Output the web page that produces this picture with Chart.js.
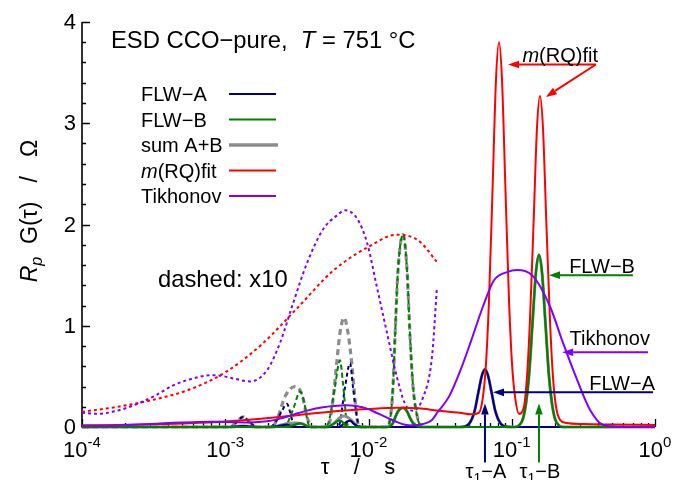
<!DOCTYPE html>
<html>
<head>
<meta charset="utf-8">
<script src="https://cdn.jsdelivr.net/npm/chart.js@4.4.0/dist/chart.umd.min.js"></script>
<style>
  html, body { margin: 0; padding: 0; background: #fff; }
  #wrap { width: 675px; height: 480px; }
</style>
</head>
<body>
<div id="wrap"><canvas id="esd" width="675" height="480"></canvas></div>
<script>
// distributions of relaxation times, x = log10(tau / s), y = Rp*G(tau) in Ohm

// m(RQ) fit
var rqLgTau = [-4.000, -3.750, -3.500, -3.250, -3.000, -2.750, -2.500, -2.250, -2.000, -1.800,
  -1.650, -1.522, -1.438, -1.361, -1.284, -1.230, -1.201,
  -1.180, -1.159, -1.134, -1.110, -1.089, -1.068, -1.044, -1.019, -0.998, -0.977,
  -0.949, -0.915, -0.894, -0.873, -0.848, -0.824, -0.803, -0.782, -0.758, -0.733,
  -0.712, -0.691, -0.663, -0.620, -0.500, -0.300, 0.000];
var rqG = [0.015, 0.020, 0.027, 0.037, 0.054, 0.081, 0.117, 0.154, 0.178, 0.190,
  0.184, 0.163, 0.150, 0.140, 0.125, 0.140, 0.300,
  0.620, 1.250, 2.350, 3.430, 3.800, 3.430, 2.350, 1.250, 0.620, 0.300,
  0.130, 0.200, 0.490, 1.050, 2.000, 2.950, 3.270, 2.950, 2.000, 1.050,
  0.490, 0.200, 0.070, 0.040, 0.030, 0.025, 0.020];

// Tikhonov regularisation
var tikLgTau = [-4.000, -3.895, -3.756, -3.595, -3.476, -3.365, -3.225, -3.106, -3.058, -2.946,
  -2.827, -2.709, -2.618, -2.527, -2.429, -2.318, -2.220, -2.164, -2.080, -2.010,
  -1.941, -1.871, -1.801, -1.745, -1.689, -1.620, -1.557, -1.522, -1.438, -1.361,
  -1.284, -1.201, -1.124, -1.033, -0.963, -0.852, -0.733, -0.642, -0.545, -0.454,
  -0.363, -0.250, 0.000];
var tikG = [0.014, 0.013, 0.016, 0.024, 0.032, 0.041, 0.048, 0.051, 0.051, 0.048,
  0.045, 0.056, 0.083, 0.122, 0.162, 0.195, 0.209, 0.214, 0.206, 0.182,
  0.138, 0.093, 0.049, 0.023, 0.016, 0.029, 0.069, 0.138, 0.300, 0.550,
  0.850, 1.190, 1.450, 1.530, 1.550, 1.490, 1.190, 0.830, 0.470, 0.170,
  0.020, 0.003, 0.000];

// FLW component A
var flwALgTau = [-4.000, -2.967, -2.920, -2.876, -2.830, -2.778, -2.688, -2.639, -2.604, -2.569,
  -2.548, -2.527, -2.492, -2.213, -2.199, -2.164, -2.129, -2.108, -2.073, -2.052,
  -1.360, -1.327, -1.299, -1.278, -1.257, -1.232, -1.208, -1.187, -1.166, -1.142,
  -1.117, -1.096, -1.075, -1.047, -1.000, 0.000];
var flwAG = [0, 0, 0.005, 0.010, 0.005, 0, 0, 0.007, 0.016, 0.023,
  0.015, 0.004, 0, 0, 0.005, 0.039, 0.063, 0.039, 0.004, 0,
  0, 0.005, 0.030, 0.080, 0.170, 0.350, 0.510, 0.570, 0.510, 0.350,
  0.170, 0.080, 0.030, 0.005, 0, 0];

// FLW component B
var flwBLgTau = [-4.000, -2.590, -2.562, -2.520, -2.478, -2.450, -2.422, -2.394, -2.297, -2.269,
  -2.234, -2.199, -2.178, -2.150, -2.129, -1.878, -1.850, -1.829, -1.815, -1.794,
  -1.759, -1.731, -1.710, -1.689, -1.654, -1.627, -0.980, -0.950, -0.922, -0.901,
  -0.880, -0.855, -0.831, -0.810, -0.789, -0.765, -0.740, -0.719, -0.698, -0.670,
  -0.640, 0.000];
var flwBG = [0, 0, 0.005, 0.020, 0.035, 0.025, 0.004, 0, 0, 0.010,
  0.040, 0.066, 0.043, 0.004, 0, 0, 0.007, 0.040, 0.089, 0.155,
  0.190, 0.155, 0.089, 0.040, 0.007, 0, 0, 0.015, 0.080, 0.230,
  0.500, 1.030, 1.530, 1.700, 1.530, 1.030, 0.500, 0.230, 0.080, 0.015,
  0, 0];

// sum A+B
var sumLgTau = [-4.000, -2.967, -2.920, -2.876, -2.830, -2.778, -2.674, -2.632, -2.583, -2.513,
  -2.464, -2.429, -2.394, -2.283, -2.248, -2.220, -2.199, -2.171, -2.143, -2.115,
  -2.094, -2.073, -2.052, -1.878, -1.850, -1.829, -1.815, -1.794, -1.759, -1.731,
  -1.710, -1.689, -1.654, -1.627, -1.360, -1.327, -1.299, -1.278, -1.257, -1.232,
  -1.208, -1.187, -1.166, -1.142, -1.117, -1.096, -1.075, -1.047, -1.000, -0.980,
  -0.950, -0.922, -0.901, -0.880, -0.855, -0.831, -0.810, -0.789, -0.765, -0.740,
  -0.719, -0.698, -0.670, -0.640, 0.000];
var sumG = [0, 0, 0.005, 0.010, 0.005, 0, 0, 0.010, 0.030, 0.040,
  0.032, 0.010, 0, 0, 0.027, 0.066, 0.093, 0.108, 0.093, 0.060,
  0.027, 0.003, 0, 0, 0.007, 0.040, 0.089, 0.155, 0.190, 0.155,
  0.089, 0.040, 0.007, 0, 0, 0.005, 0.030, 0.080, 0.170, 0.350,
  0.510, 0.570, 0.510, 0.350, 0.170, 0.080, 0.030, 0.005, 0, 0,
  0.015, 0.080, 0.230, 0.500, 1.030, 1.530, 1.700, 1.530, 1.030, 0.500,
  0.230, 0.080, 0.015, 0, 0];

var xDecades = [-4, -3, -2, -1, 0];
var yTicks = [0, 1, 2, 3, 4];
var dashedFactor = 10;      // dashed curves are magnified x10
var dashedUpTo = 0.0302;    // s, end of the magnified range

var NAVY = '#000080', GREEN = '#008000', GRAY = '#8c8c8c', RED = '#ff0000', VIOLET = '#8000ff';
var FONT = "'Liberation Sans', Arial, sans-serif";

function pts(lg, g, factor, upTo) {
  var out = [];
  for (var i = 0; i < lg.length; i++) {
    var t = Math.pow(10, lg[i]);
    if (upTo && t > upTo) break;
    out.push({ x: t, y: g[i] * (factor || 1) });
  }
  return out;
}

function line(label, data, color, width, dash, order) {
  return {
    label: label, data: data, borderColor: color, borderWidth: width,
    borderDash: dash || [], pointRadius: 0, fill: false,
    cubicInterpolationMode: 'monotone', order: order, clip: 4
  };
}

var datasets = [
  line('Tikhonov', pts(tikLgTau, tikG), VIOLET, 2, null, 1),
  line('m(RQ)fit', pts(rqLgTau, rqG), RED, 2, null, 2),
  line('FLW-B', pts(flwBLgTau, flwBG), GREEN, 2.2, null, 3),
  line('FLW-A', pts(flwALgTau, flwAG), NAVY, 2.2, null, 4),
  line('sum A+B', pts(sumLgTau, sumG), GRAY, 3, null, 5),
  line('Tikhonov x10', pts(tikLgTau, tikG, dashedFactor, dashedUpTo), VIOLET, 2, [3, 3], 6),
  line('m(RQ)fit x10', pts(rqLgTau, rqG, dashedFactor, dashedUpTo), RED, 2, [3, 3], 7),
  line('FLW-B x10', pts(flwBLgTau, flwBG, dashedFactor, dashedUpTo), GREEN, 2, [5, 3], 8),
  line('FLW-A x10', pts(flwALgTau, flwAG, dashedFactor, dashedUpTo), NAVY, 2, [4, 3], 9),
  line('sum A+B x10', pts(sumLgTau, sumG, dashedFactor, dashedUpTo), GRAY, 3.2, [6, 4], 10)
];

// draw a line of text made of several styled pieces: [text, size, italic, dy]
function rich(ctx, parts, x, y, align) {
  var w = 0;
  parts.forEach(function (p) {
    ctx.font = (p[2] ? 'italic ' : '') + p[1] + 'px ' + FONT;
    w += ctx.measureText(p[0]).width;
  });
  var cx = align === 'center' ? x - w / 2 : (align === 'right' ? x - w : x);
  ctx.textAlign = 'left';
  ctx.textBaseline = 'alphabetic';
  parts.forEach(function (p) {
    ctx.font = (p[2] ? 'italic ' : '') + p[1] + 'px ' + FONT;
    ctx.fillText(p[0], cx, y + (p[3] || 0));
    cx += ctx.measureText(p[0]).width;
  });
}

function arrow(ctx, x0, y0, x1, y1, color) {
  var a = Math.atan2(y1 - y0, x1 - x0), len = 11, hw = 3.8;
  var bx = x1 - Math.cos(a) * len, by = y1 - Math.sin(a) * len;
  ctx.strokeStyle = color;
  ctx.fillStyle = color;
  ctx.lineWidth = 2;
  ctx.setLineDash([]);
  ctx.beginPath();
  ctx.moveTo(x0, y0);
  ctx.lineTo(bx, by);
  ctx.stroke();
  ctx.beginPath();
  ctx.moveTo(x1, y1);
  ctx.lineTo(bx - Math.sin(a) * hw, by + Math.cos(a) * hw);
  ctx.lineTo(bx + Math.sin(a) * hw, by - Math.cos(a) * hw);
  ctx.closePath();
  ctx.fill();
}

// labelled arrows, positions in data units (tau / s, Ohm)
var notes = [
  { text: [['m', 20, true], ['(RQ)fit', 20, false]], color: RED, from: [0.387, 3.58], to: [[0.0942, 3.58], [0.173, 3.26]], lift: 3 },
  { text: [['FLW\u2212B', 20, false]], color: GREEN, from: [0.701, 1.50], to: [[0.182, 1.50]], lift: 2 },
  { text: [['Tikhonov', 20, false]], color: VIOLET, from: [0.893, 0.738], to: [[0.225, 0.738]], lift: 7 },
  { text: [['FLW\u2212A', 20, false]], color: NAVY, from: [0.968, 0.342], to: [[0.074, 0.342]], lift: 2 }
];
var tauMarks = [
  { tau: Math.pow(10, -1.187), name: 'A', color: NAVY },
  { tau: Math.pow(10, -0.810), name: 'B', color: GREEN }
];

var legendRows = [
  ['FLW\u2212A', NAVY, 2.2], ['FLW\u2212B', GREEN, 2.2], ['sum A+B', GRAY, 3.5],
  ['m(RQ)fit', RED, 2.2], ['Tikhonov', VIOLET, 2.2]
];

var decor = {
  id: 'decor',
  beforeDatasetsDraw: function (chart) {
    var ctx = chart.ctx, xs = chart.scales.x, ys = chart.scales.y, a = chart.chartArea;
    ctx.save();
    ctx.strokeStyle = '#000';
    ctx.lineWidth = 1.6;
    ctx.beginPath();
    ctx.moveTo(a.left, a.top);
    ctx.lineTo(a.left, a.bottom);
    ctx.lineTo(a.right, a.bottom);
    ctx.stroke();
    ctx.lineWidth = 1.3;
    ctx.beginPath();
    xDecades.forEach(function (d, i) {
      var n = i < xDecades.length - 1 ? 9 : 1;
      for (var m = 1; m <= n; m++) {
        var px = Math.round(xs.getPixelForValue(m * Math.pow(10, d))) + 0.5;
        ctx.moveTo(px, a.bottom);
        ctx.lineTo(px, a.bottom - (m === 1 ? 8 : 4));
      }
    });
    for (var k = 0; k <= 20; k++) {
      var py = Math.round(ys.getPixelForValue(k * 0.2)) + 0.5;
      ctx.moveTo(a.left, py);
      ctx.lineTo(a.left + (k % 5 === 0 ? 8 : 4), py);
    }
    ctx.stroke();
    ctx.restore();
  },
  afterDraw: function (chart) {
    var ctx = chart.ctx, xs = chart.scales.x, ys = chart.scales.y, a = chart.chartArea;
    ctx.save();
    ctx.fillStyle = '#000';

    // tick labels
    xDecades.forEach(function (d) {
      var px = xs.getPixelForValue(Math.pow(10, d));
      var exp = d < 0 ? '-' + (-d) : String(d);
      rich(ctx, [['10', 22, false], [exp, 15, false, -10]], px, 457, 'center');
    });
    ctx.font = '22px ' + FONT;
    ctx.textAlign = 'right';
    ctx.textBaseline = 'middle';
    yTicks.forEach(function (v) {
      ctx.fillText(String(v), a.left - 6, ys.getPixelForValue(v) + 1);
    });

    // axis titles
    rich(ctx, [['\u03c4    /    s', 22, false]], 358, 474, 'center');
    ctx.save();
    ctx.translate(37, 211);
    ctx.rotate(-Math.PI / 2);
    rich(ctx, [['R', 23, true], ['p', 16, true, 5], ['  G(\u03c4)   /   \u03a9', 23, false]], 0, 0, 'center');
    ctx.restore();

    // heading and note
    rich(ctx, [['ESD CCO\u2212pure,  ', 23.8, false], ['T', 23.8, true], [' = 751 \u00b0C', 23.8, false]], 111, 48, 'left');
    rich(ctx, [['dashed: x10', 23.8, false]], 158, 287, 'left');

    // legend
    legendRows.forEach(function (r, i) {
      var y = 94 + i * 25.5;
      var label = r[0] === 'm(RQ)fit' ? [['m', 20, true], ['(RQ)fit', 20, false]] : [[r[0], 20, false]];
      ctx.fillStyle = '#000';
      rich(ctx, label, 141, y + 7, 'left');
      ctx.strokeStyle = r[1];
      ctx.lineWidth = r[2];
      ctx.beginPath();
      ctx.moveTo(229, y);
      ctx.lineTo(r[0] === 'sum A+B' ? 278 : 276, y);
      ctx.stroke();
    });

    // labelled arrows
    notes.forEach(function (n) {
      var x0 = xs.getPixelForValue(n.from[0]), y0 = ys.getPixelForValue(n.from[1]);
      n.to.forEach(function (t) {
        arrow(ctx, x0, y0, xs.getPixelForValue(t[0]), ys.getPixelForValue(t[1]), n.color);
      });
      ctx.fillStyle = '#000';
      rich(ctx, n.text, x0 + 2, y0 - n.lift, 'right');
    });

    tauMarks.forEach(function (m) {
      var px = xs.getPixelForValue(m.tau);
      arrow(ctx, px, ys.getPixelForValue(-0.35), px, ys.getPixelForValue(0.233), m.color);
      ctx.fillStyle = '#000';
      rich(ctx, [['\u03c4', 20, false], ['1', 14, false, 5], ['\u2212' + m.name, 20, false]], px + 1, 478, 'center');
    });
    ctx.restore();
  }
};

new Chart(document.getElementById('esd').getContext('2d'), {
  type: 'line',
  data: { datasets: datasets },
  options: {
    responsive: false,
    animation: false,
    devicePixelRatio: 1,
    layout: { padding: { left: 82, right: 20, top: 22, bottom: 53 } },
    plugins: { legend: { display: false }, tooltip: { enabled: false } },
    scales: {
      x: { type: 'logarithmic', min: 1e-4, max: 1, display: false },
      y: { type: 'linear', min: 0, max: 4, display: false }
    }
  },
  plugins: [decor]
});
</script>
</body>
</html>
